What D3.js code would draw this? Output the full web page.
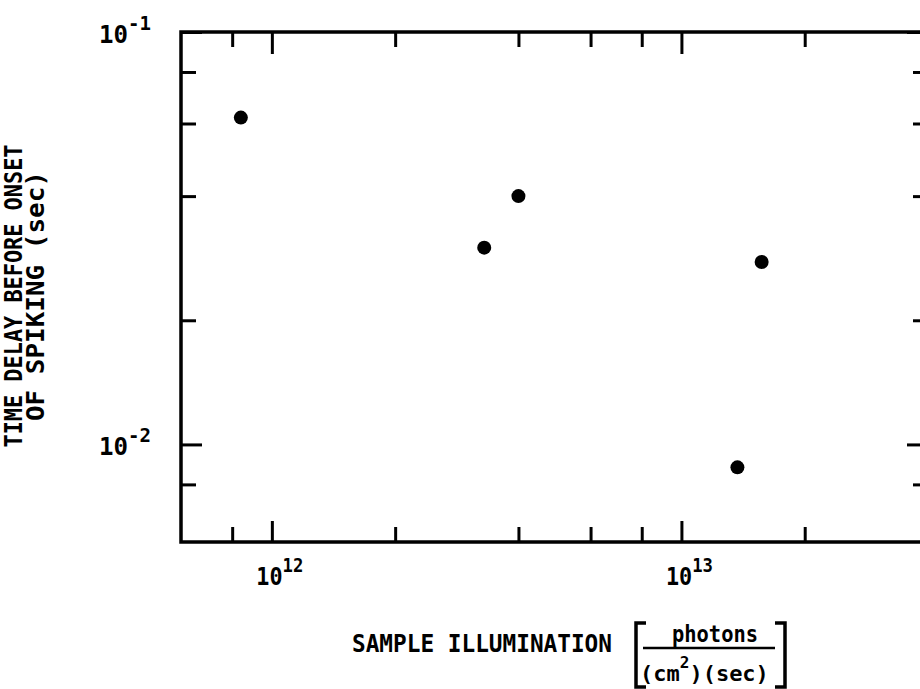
<!DOCTYPE html>
<html>
<head>
<meta charset="utf-8">
<script src="https://cdn.jsdelivr.net/npm/d3@7"></script>
<style>
  body { margin: 0; background: #fff; }
  text { font-family: "DejaVu Sans Mono", monospace; font-weight: bold; fill: #000; }
</style>
</head>
<body>
<script>
// values
var illumination = [8.4e11, 3.3e12, 4.0e12, 1.37e13, 1.57e13];   // photons/(cm^2)(sec)
var delay = [0.062, 0.030, 0.040, 0.0088, 0.0277];              // sec

// tick values and their exponent labels
var xMajor = [1e12, 1e13],
    xMinor = [8e11, 2e12, 4e12, 6e12, 8e12, 2e13];
var yMajor = [1e-1, 1e-2],
    yMinor = [8e-2, 6e-2, 4e-2, 2e-2, 8e-3];
var xExp = ["12", "13"],
    yExp = ["-1", "-2"];

var width = 920, height = 689;
// plot frame (right edge runs just off the page like the scan)
var frame = {left: 181, right: 928, top: 32, bottom: 542};

var svg = d3.select("body")
  .append("svg")
    .attr("width", width)
    .attr("height", height);

var x = d3.scaleLog()
  .domain([6e11, 4e13])
  .range([frame.left, frame.right]);

var y = d3.scaleLog()
  .domain([5.8e-3, 1e-1])
  .range([frame.bottom, frame.top]);

// inward ticks on all four sides
function ticks(axis, vals, len, tr) {
  svg.append("g")
    .attr("transform", tr)
    .call(axis.tickValues(vals).tickSize(-len).tickSizeOuter(0).tickFormat(""))
    .call(function(g) { g.select(".domain").remove(); })
    .selectAll("line")
      .attr("stroke", "#000")
      .attr("stroke-width", 3);
}
ticks(d3.axisBottom(x), xMinor, 15, "translate(0," + frame.bottom + ")");
ticks(d3.axisBottom(x), xMajor, 21, "translate(0," + frame.bottom + ")");
ticks(d3.axisTop(x), xMinor, 15, "translate(0," + frame.top + ")");
ticks(d3.axisTop(x), xMajor, 22, "translate(0," + frame.top + ")");
ticks(d3.axisLeft(y), yMinor, 15, "translate(" + frame.left + ",0)");
ticks(d3.axisLeft(y), yMajor, 21, "translate(" + frame.left + ",0)");
ticks(d3.axisRight(y), yMinor, 15, "translate(" + frame.right + ",0)");
ticks(d3.axisRight(y), yMajor, 21, "translate(" + frame.right + ",0)");

// frame
svg.append("rect")
  .attr("x", frame.left)
  .attr("y", frame.top)
  .attr("width", frame.right - frame.left)
  .attr("height", frame.bottom - frame.top)
  .attr("fill", "none")
  .attr("stroke", "#000")
  .attr("stroke-width", 3.5);

// x tick labels 10^n
var xl = svg.selectAll(".xlab")
  .data(xMajor)
  .join("text")
    .attr("class", "xlab")
    .attr("x", function(d) { return x(d) + 8; })
    .attr("y", 585)
    .attr("text-anchor", "middle")
    .attr("textLength", 47)
    .attr("lengthAdjust", "spacingAndGlyphs")
    .style("font-size", "24px");
xl.append("tspan").text("10");
xl.append("tspan")
  .attr("dy", -13)
  .style("font-size", "19px")
  .text(function(d, i) { return xExp[i]; });

// y tick labels 10^n
var yl = svg.selectAll(".ylab")
  .data(yMajor)
  .join("text")
    .attr("class", "ylab")
    .attr("x", 151)
    .attr("y", function(d) { return y(d) + 11; })
    .attr("text-anchor", "end")
    .attr("textLength", 52)
    .attr("lengthAdjust", "spacingAndGlyphs")
    .style("font-size", "24px");
yl.append("tspan").text("10");
yl.append("tspan")
  .attr("dy", -13)
  .style("font-size", "19px")
  .text(function(d, i) { return yExp[i]; });

// points
svg.selectAll(".pt")
  .data(illumination)
  .join("circle")
    .attr("class", "pt")
    .attr("cx", function(d) { return x(d); })
    .attr("cy", function(d, i) { return y(delay[i]); })
    .attr("r", 7)
    .attr("fill", "#000");

// y axis title, two lines
svg.append("text")
  .attr("transform", "translate(22,296) rotate(-90)")
  .attr("text-anchor", "middle")
  .attr("textLength", 303)
  .attr("lengthAdjust", "spacingAndGlyphs")
  .style("font-size", "24px")
  .text("TIME DELAY BEFORE ONSET");
svg.append("text")
  .attr("transform", "translate(44,296) rotate(-90)")
  .attr("text-anchor", "middle")
  .attr("textLength", 250)
  .attr("lengthAdjust", "spacingAndGlyphs")
  .style("font-size", "24px")
  .text("OF SPIKING (sec)");

// x axis title with bracketed units
svg.append("text")
  .attr("x", 352)
  .attr("y", 652)
  .attr("textLength", 260)
  .attr("lengthAdjust", "spacingAndGlyphs")
  .style("font-size", "25px")
  .text("SAMPLE ILLUMINATION");

svg.append("text")
  .attr("x", 715)
  .attr("y", 642)
  .attr("text-anchor", "middle")
  .attr("textLength", 86)
  .attr("lengthAdjust", "spacingAndGlyphs")
  .style("font-size", "23px")
  .text("photons");

svg.append("line")
  .attr("x1", 643).attr("x2", 775)
  .attr("y1", 648).attr("y2", 648)
  .attr("stroke", "#000")
  .attr("stroke-width", 2.5);

// denominator (cm^2)(sec), pieces laid end to end
var dx = 640;
[["(cm", 681, 22], ["2", 668, 16], [")(sec)", 681, 22]].forEach(function(p) {
  var t = svg.append("text")
    .attr("x", dx)
    .attr("y", p[1])
    .style("font-size", p[2] + "px")
    .text(p[0]);
  dx += t.node().getComputedTextLength();
});

svg.append("path")
  .attr("d", "M646,623H636V687H646M775,623H785V687H775")
  .attr("fill", "none")
  .attr("stroke", "#000")
  .attr("stroke-width", 3.5);
</script>
</body>
</html>
